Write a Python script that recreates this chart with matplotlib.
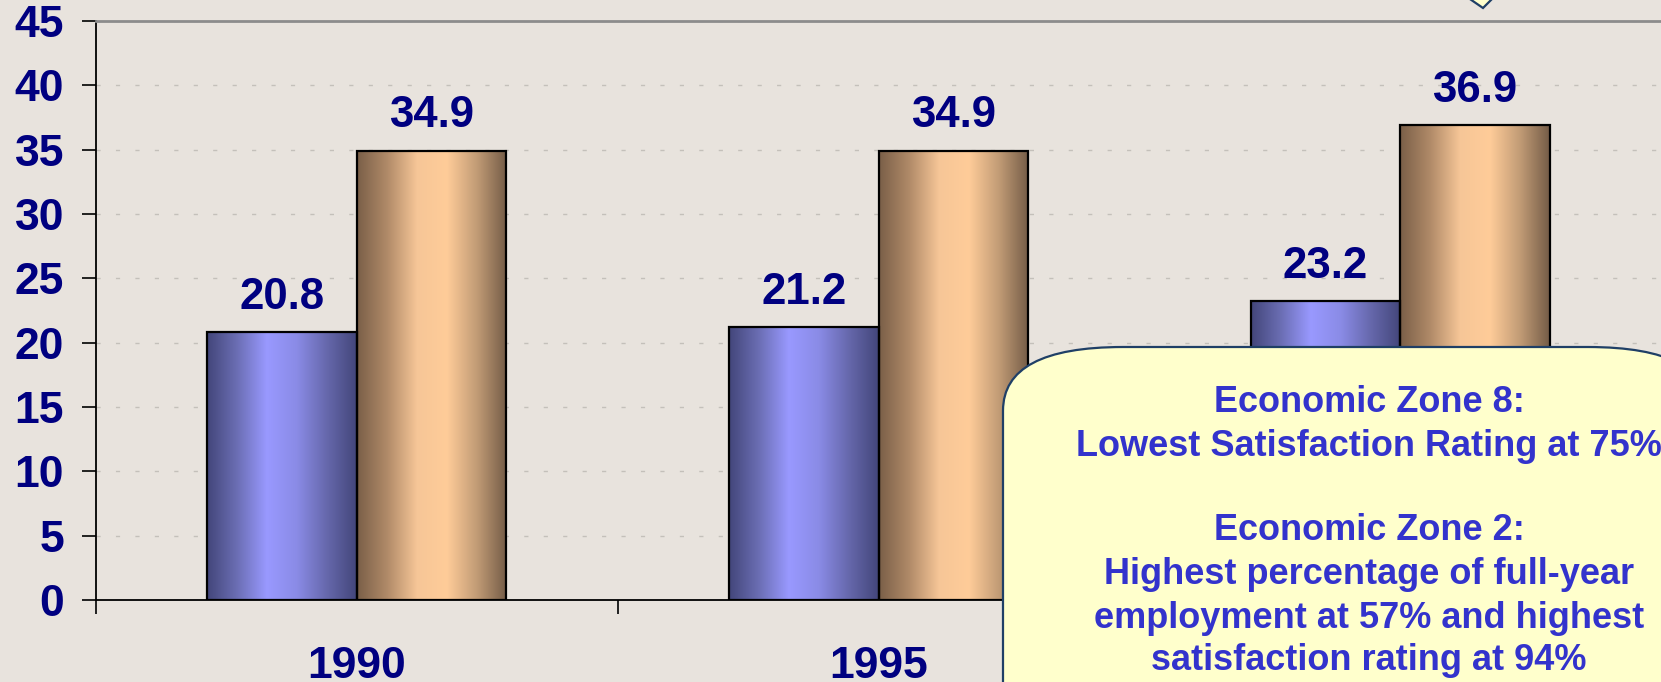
import numpy as np
import matplotlib.pyplot as plt
from matplotlib.colors import LinearSegmentedColormap
from matplotlib.patches import FancyBboxPatch, Polygon

# ---- data ----
years = ["1990", "1995", "2000"]
series_blue = [20.8, 21.2, 23.2]
series_tan = [34.9, 34.9, 36.9]
y_ticks = [0, 5, 10, 15, 20, 25, 30, 35, 40, 45]

callout_lines = [
    "Economic Zone 8:",
    "Lowest Satisfaction Rating at 75%",
    "",
    "Economic Zone 2:",
    "Highest percentage of full-year",
    "employment at 57% and highest",
    "satisfaction rating at 94%",
]

# ---- style ----
BG = "#E8E3DD"
NAVY = "#000080"
plt.rcParams["font.family"] = ["Liberation Sans", "DejaVu Sans"]
plt.rcParams["font.weight"] = "bold"

blue_cmap = LinearSegmentedColormap.from_list(
    "blue_cyl", ["#43467A", "#6B6EB4", "#9999FF", "#8A8BE6", "#6668AC", "#43467A"])
tan_cmap = LinearSegmentedColormap.from_list(
    "tan_cyl", ["#7A5F48", "#B08A68", "#F6C697", "#FFCC99", "#C29C76", "#745C47"])

W, H = 1661, 682
fig = plt.figure(figsize=(W / 100, H / 100), dpi=100, facecolor=BG)
ax = fig.add_axes([96 / W, 82 / H, 1 - 96 / W, 579 / H])
ax.set_facecolor(BG)

x = np.arange(len(years))
bw = 0.2866
bars_a = ax.bar(x - bw / 2, series_blue, bw, facecolor="none", edgecolor="black",
                linewidth=1.6, zorder=3)
bars_b = ax.bar(x + bw / 2, series_tan, bw, facecolor="none", edgecolor="black",
                linewidth=1.6, zorder=3)

# cylinder-like horizontal gradient in each bar
grad = np.linspace(0, 1, 256).reshape(1, -1)
for bars, cmap in [(bars_a, blue_cmap), (bars_b, tan_cmap)]:
    for r in bars:
        ax.imshow(grad, cmap=cmap, aspect="auto", zorder=2,
                  extent=[r.get_x(), r.get_x() + r.get_width(), 0, r.get_height()])
        ax.annotate(f"{r.get_height():.1f}",
                    (r.get_x() + r.get_width() / 2, r.get_height()),
                    xytext=(0, 17), textcoords="offset points",
                    ha="center", va="baseline", fontsize=31.5,
                    fontweight="bold", color=NAVY, zorder=4)

ax.set_xlim(-0.5, 2.5)
ax.set_ylim(0, 45)
ax.set_yticks(y_ticks)
ax.set_xticks(x)
ax.set_xticklabels(years)
ax.set_xticks([-0.5, 0.5, 1.5, 2.5], minor=True)

ax.tick_params(axis="y", direction="out", length=10, width=1.2, pad=13,
               labelsize=32, labelcolor=NAVY)
ax.tick_params(axis="x", which="major", length=0, pad=33,
               labelsize=32, labelcolor=NAVY)
ax.tick_params(axis="x", which="minor", direction="out", length=10, width=1.2)
for lab in ax.get_yticklabels() + ax.get_xticklabels():
    lab.set_fontweight("bold")

ax.yaxis.grid(True, linestyle=(0, (3, 11)), color="#C4C0BA", linewidth=1)
ax.set_axisbelow(True)

ax.spines["right"].set_visible(False)
ax.spines["top"].set_color("#8C8C8C")
ax.spines["top"].set_linewidth(2)
ax.spines["left"].set_linewidth(1.3)
ax.spines["bottom"].set_linewidth(1.3)

# ---- overlay for the callout shapes (pixel coords) ----
ov = fig.add_axes([0, 0, 1, 1], zorder=10)
ov.set_xlim(0, W)
ov.set_ylim(H, 0)
ov.axis("off")
ov.patch.set_alpha(0)

box = FancyBboxPatch((1003, 347), 705, 420,
                     boxstyle="round,pad=0,rounding_size=120",
                     mutation_aspect=0.53,
                     facecolor="#FFFFCC", edgecolor="#1F3F66", linewidth=1.6)
ov.add_patch(box)
ov.add_patch(Polygon([(1467, -3), (1483, 8), (1494, -3)], closed=True,
                     facecolor="#FFFFCC", edgecolor="#1F3F66", linewidth=1.6))

line_y = [403, 447, 0, 531, 575, 618, 661]
for txt, yy in zip(callout_lines, line_y):
    if txt:
        ov.text(1369, yy, txt, ha="center", va="center", fontsize=26,
                fontweight="bold", color="#3333CC")

fig.savefig("out.png", dpi=100, facecolor=BG)
